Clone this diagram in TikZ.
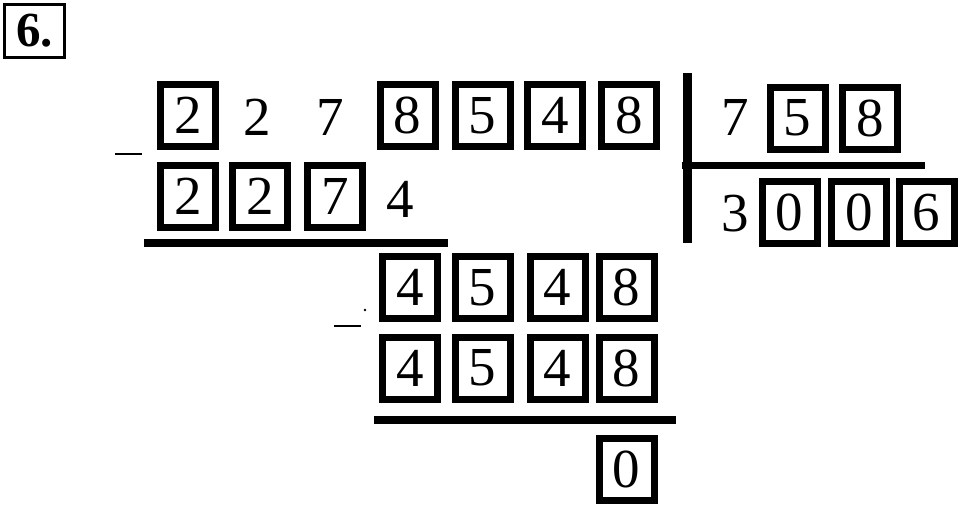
\documentclass[tikz,border=0pt]{standalone}
\usepackage{fontspec}
\setmainfont{Liberation Serif}
\begin{document}
\begin{tikzpicture}[x=1pt,y=-1pt,
  dig/.style={inner sep=0pt,font=\fontsize{55}{60}\selectfont},
  dbox/.style={dig,draw,line width=7pt,minimum width=55pt,minimum height=62pt},
  rule/.style={line width=8pt},
  minus/.style={line width=2.5pt}]
\useasboundingbox[fill=white] (0,0) rectangle (960,507);
% title
\node[draw,line width=3pt,minimum width=60pt,minimum height=53pt,inner sep=0pt,
  font=\fontsize{49}{52}\selectfont\bfseries] (title) at (34.5,31) {6.};
% dividend row
\node[dbox] (d1) at (188,115.5) {2};
\node[dig] (d2) at (257,117) {2};
\node[dig] (d3) at (330,117) {7};
\node[dbox] (d4) at (407.5,115.5) {8};
\node[dbox] (d5) at (482.5,115.5) {5};
\node[dbox] (d6) at (555,115.5) {4};
\node[dbox] (d7) at (629,115.5) {8};
% first subtrahend
\node[dbox] (s1) at (188,196.5) {2};
\node[dbox] (s2) at (260,196.5) {2};
\node[dbox] (s3) at (335,196.5) {7};
\node[dig] (s4) at (400,199) {4};
% divisor
\node[dig] (v1) at (735,117) {7};
\node[dbox] (v2) at (797.5,118) {5};
\node[dbox] (v3) at (870,118) {8};
% quotient
\node[dig] (q1) at (735,214) {3};
\node[dbox] (q2) at (789.5,212.5) {0};
\node[dbox] (q3) at (859,212.5) {0};
\node[dbox] (q4) at (926.5,212.5) {6};
% remainder row
\node[dbox] (r1) at (410,287.5) {4};
\node[dbox] (r2) at (482.5,287.5) {5};
\node[dbox] (r3) at (557.5,287.5) {4};
\node[dbox] (r4) at (626.5,287.5) {8};
% second subtrahend
\node[dbox] (t1) at (410,368) {4};
\node[dbox] (t2) at (482.5,368) {5};
\node[dbox] (t3) at (557.5,368) {4};
\node[dbox] (t4) at (626.5,368) {8};
% final remainder
\node[dbox] (z) at (626.5,469) {0};
% minus signs
\draw[minus] (115,154) -- (142,154);
\draw[minus] (334,326) -- (361,326);
\fill (365,310) circle (1.3);
% rules
\draw[rule] (144,243) -- (448,243);
\draw[rule] (374,420) -- (676,420);
% division bracket
\draw[line width=9pt] (687,73) -- (687,243);
\draw[line width=7pt] (682,165.5) -- (925,165.5);
\end{tikzpicture}
\end{document}
